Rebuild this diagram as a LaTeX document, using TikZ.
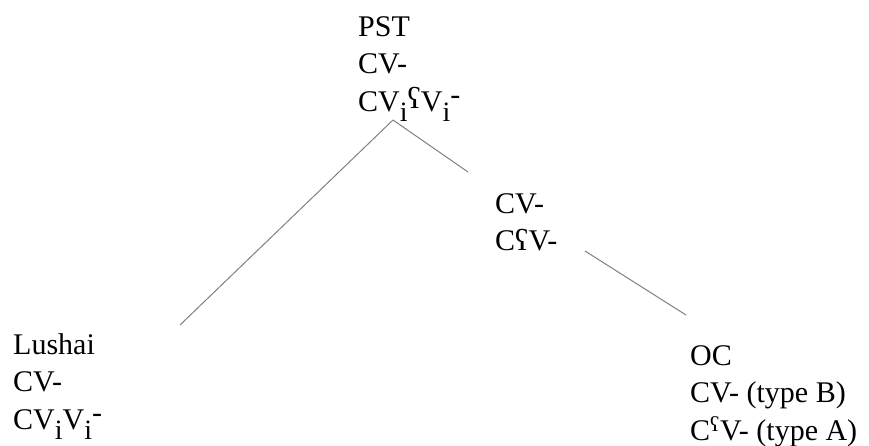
\documentclass[tikz,border=0pt]{standalone}
\usepackage{fontspec}
\setmainfont{Liberation Serif}
\usepackage{tikz}

\newcommand{\lowi}{\raisebox{-0.36em}{\fontsize{28}{28}\selectfont i}}
\newcommand{\uphy}{\raisebox{0.22em}{-}}
\newcommand{\smallain}{\raisebox{0.1em}{ʕ}}

\begin{document}
\begin{tikzpicture}[x=1pt,y=-1pt,lang/.style={anchor=north west,inner sep=0pt,align=left,font=\fontsize{30}{37.5}\selectfont},branch/.style={draw=black!50,line width=1pt}]
\useasboundingbox (0,0) rectangle (869,445);
\node[lang] (pst) at (358,16) {PST\\CV-\\CV\lowi\smallain V\lowi\uphy};
\node[lang] (inter) at (495,193) {CV-\\CʕV-};
\node[lang] (lushai) at (13,333) {Lushai\\CV-\\CV\lowi V\lowi\uphy};
\node[lang] (oc) at (690,345) {OC\\CV- (type B)\\C\textsuperscript{ʕ}V- (type A)};
\coordinate (fork) at (393,120);
\coordinate (lushai-end) at (180,325);
\coordinate (inter-end) at (468,172);
\coordinate (inter-fork) at (585,251);
\coordinate (oc-end) at (686,315);
\draw[branch] (fork) -- (lushai-end);
\draw[branch] (fork) -- (inter-end);
\draw[branch] (inter-fork) -- (oc-end);
\end{tikzpicture}
\end{document}
